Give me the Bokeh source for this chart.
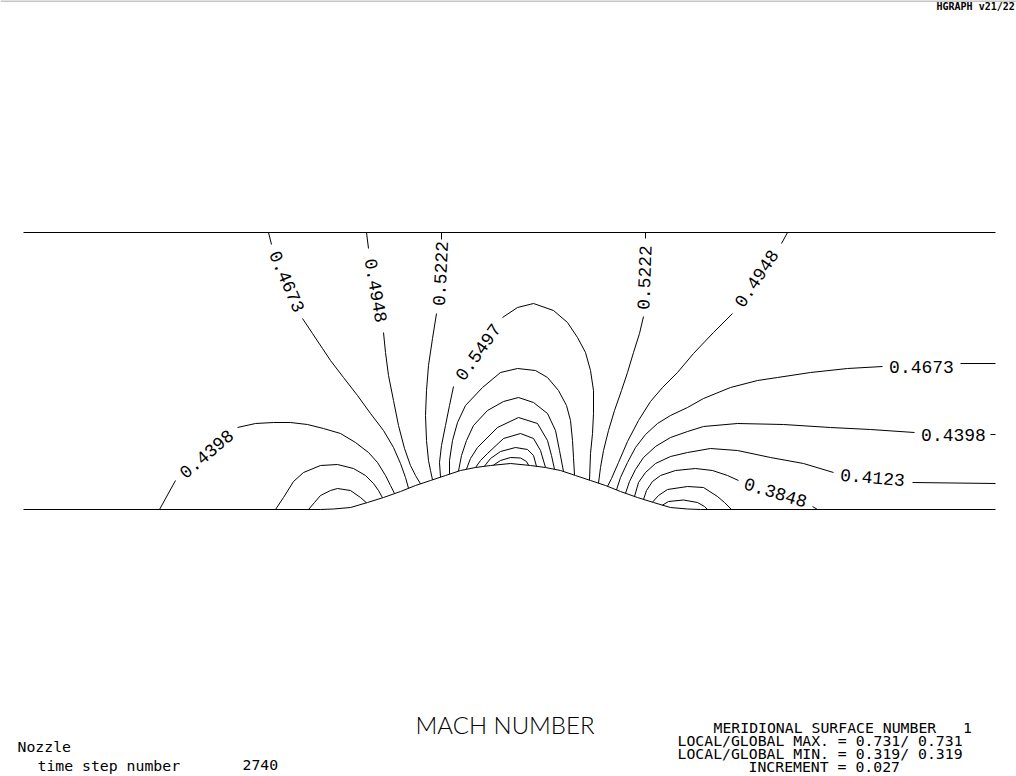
from bokeh.plotting import figure
from bokeh.models import Range1d, Label, Span
from bokeh.core.properties import value
from bokeh.embed import file_html
from bokeh.resources import INLINE

# ---- geometry (mm): channel 972 long, 277 high, bump on the lower wall ----
top_x = [0, 972]
top_y = [277, 277]
bottom_x = [0, 297, 310, 327, 344, 360, 377, 392, 407, 422, 437, 452, 467, 487,
            507, 522, 537, 552, 567, 582, 597, 614, 630, 647, 664, 677, 972]
bottom_y = [0, 0, 0.5, 2, 7, 12, 18, 24, 29, 34, 39, 42, 44, 46,
            44, 42, 39, 34, 29, 24, 18, 12, 7, 2, 0.5, 0, 0]

# ---- Mach number iso-lines (segments between labels) ----
m3298 = [([639, 645, 660, 674, 681, 684], [4.4, 8, 9.5, 7, 3, 0])]
m3573 = [([629, 635, 644, 664, 680, 694, 701, 708], [7.3, 14, 20, 23, 22, 13, 7, 0])]
m3848 = [([285, 291, 297, 307, 314, 327, 337, 343], [0, 7, 14, 19, 21, 19, 12, 6.7]),
         ([620, 623, 629, 637, 652, 672, 689, 704, 715], [10, 19, 28, 34, 39, 41, 39, 34, 29]),
         ([789, 794], [3, 0])]
m4123 = [([252, 260, 270, 280, 297, 314, 330, 342, 350, 355, 359],
          [0, 12, 28, 37, 44, 45, 41, 34, 26, 19, 11.7]),
         ([611, 615, 622, 632, 647, 664, 687, 714, 747, 780, 810],
          [13, 27, 37, 46, 53, 57, 61, 59, 52, 46, 37]),
         ([889, 972], [27, 26])]
m4398 = [([136, 152], [0, 29]),
         ([214, 232, 250, 267, 284, 300, 317, 332, 345, 354, 362, 367, 371],
          [82, 86, 87, 87, 85, 81, 76, 67, 57, 47, 34, 24, 16]),
         ([602, 606, 612, 620, 632, 647, 664, 680, 714, 760, 807, 847, 891],
          [16.2, 28, 40, 52, 63, 72, 78, 83, 86, 85, 82, 80, 77]),
         ([967, 972], [75, 75])]
m4673 = [([245, 248], [277, 265]),
         ([279, 289, 299, 307, 320, 334, 347, 360, 370, 377, 382, 385],
          [191, 176, 161, 149, 132, 114, 96, 79, 62, 46, 32, 21.2]),
         ([593, 597, 604, 612, 622, 634, 647, 664, 680, 707, 734, 754, 787, 824, 859],
          [19.6, 32, 47, 62, 75, 86, 94, 102, 111, 122, 129, 132, 137, 141, 143]),
         ([937, 972], [146, 146])]
m4948 = [([343, 345], [277, 261]),
         ([360, 362, 365, 370, 375, 381, 387, 392, 397],
          [177, 157, 134, 109, 84, 61, 44, 34, 25.7]),
         ([764, 758], [277, 266]),
         ([709, 690, 670, 654, 639, 627, 615, 604, 595, 588, 584],
          [196, 177, 156, 137, 122, 108, 89, 68, 47, 31, 23.1])]
m5222 = [([418, 418], [277, 270]),
         ([413, 409, 405, 403, 402, 403, 405, 407, 409],
          [196, 171, 144, 119, 94, 69, 49, 39, 29.7]),
         ([622, 622], [277, 271]),
         ([620, 616, 610, 604, 598, 591, 585, 580, 577, 575],
          [193, 176, 157, 137, 119, 99, 79, 59, 42, 26.4])]
m5497 = [([417, 416, 418, 422, 426, 430], [32.3, 47, 64, 84, 104, 123]),
         ([479, 494, 510, 530, 544, 554, 562, 567, 570, 570, 569, 567, 566],
          [192, 202, 206, 199, 187, 172, 157, 139, 119, 96, 76, 56, 29.3])]
m5772 = [([426, 426, 429, 434, 442, 459, 477, 494, 512, 524, 535, 543, 547, 549, 550, 551],
          [35.3, 49, 69, 87, 104, 122, 137, 141, 139, 132, 119, 104, 89, 69, 52, 34.3])]
m6047 = [([435, 438, 443, 450, 464, 480, 495, 510, 524, 532, 536, 540],
          [38.5, 54, 69, 84, 99, 108, 112, 107, 96, 79, 59, 38])]
m6322 = [([443, 447, 454, 474, 495, 514, 524, 528, 531],
          [40.5, 51, 62, 82, 92, 86, 69, 54, 40.2])]
m6596 = [([452, 457, 464, 480, 497, 510, 517, 522], [42, 49, 56, 71, 76, 71, 59, 42])]
m6871 = [([461, 467, 477, 492, 504, 510, 513], [43.3, 51, 58, 62, 60, 54, 43.1])]
m7146 = [([470, 477, 487, 497, 503, 505], [44.4, 49, 52, 51.5, 48, 44.4])]

# ---- in-line contour labels ----
label_text = ["0.4398", "0.4673", "0.4948", "0.5222", "0.5497",
              "0.5222", "0.4948", "0.4673", "0.4398", "0.4123", "0.3848"]
label_x = [183, 263.5, 352.5, 417, 454.5, 621, 733, 898, 930, 849, 752]
label_y = [55.5, 228, 219, 236, 157.5, 232, 231, 143, 75, 32, 17]
label_angle = [40.5, -67, -80, 87, 54.6, 88, 56.5, 0, 0, -5, -17]

all_levels = [m3298, m3573, m3848, m4123, m4398, m4673, m4948,
              m5222, m5497, m5772, m6047, m6322, m6596, m6871, m7146]
xs = [seg[0] for lev in all_levels for seg in lev]
ys = [seg[1] for lev in all_levels for seg in lev]

p = figure(width=1016, height=776, output_backend="svg", toolbar_location=None,
           x_range=Range1d(-23, 993), y_range=Range1d(-267, 509),
           x_axis_location=None, y_axis_location=None, min_border=0,
           background_fill_color="white", border_fill_color="white")
p.outline_line_color = None
p.grid.visible = False

p.line(top_x, top_y, line_color="black", line_width=1)
p.line(bottom_x, bottom_y, line_color="black", line_width=1)
p.multi_line(xs, ys, line_color="black", line_width=1)

p.text(x=label_x, y=label_y, text=label_text, angle=label_angle, angle_units="deg",
       text_font=value("Liberation Mono"), text_font_size="18px",
       text_align="center", text_baseline="middle", text_color="black")

p.add_layout(Span(location=508.5, dimension="width", line_color="#8c8c8c", line_width=1))

mono = "DejaVu Sans Mono"
nb = "\u00a0"
notes = [
    ("MACH NUMBER", 392, -214.5, "'Lato Light', 'Liberation Sans'", "24px", "normal"),
    ("MERIDIONAL SURFACE NUMBER" + nb * 3 + "1", 690, -218, mono, "14.8px", "normal"),
    ("LOCAL/GLOBAL MAX. = 0.731/ 0.731", 654, -231, mono, "14.8px", "normal"),
    ("LOCAL/GLOBAL MIN. = 0.319/ 0.319", 654, -244, mono, "14.8px", "normal"),
    ("INCREMENT = 0.027", 725, -257, mono, "14.8px", "normal"),
    ("Nozzle", -6, -237, mono, "14.8px", "normal"),
    ("time step number", 14, -256, mono, "14.8px", "normal"),
    ("2740", 219, -255.5, mono, "14.8px", "normal"),
    ("HGRAPH v21/22", 913, 503, mono, "10px", "bold"),
]
for t, x, y, f, s, st in notes:
    p.add_layout(Label(x=x, y=y, text=t, text_font=f, text_font_size=s,
                       text_color="black", text_align="left", text_baseline="middle",
                       text_font_style=st))

open("out.html", "w").write(file_html(p, INLINE))
